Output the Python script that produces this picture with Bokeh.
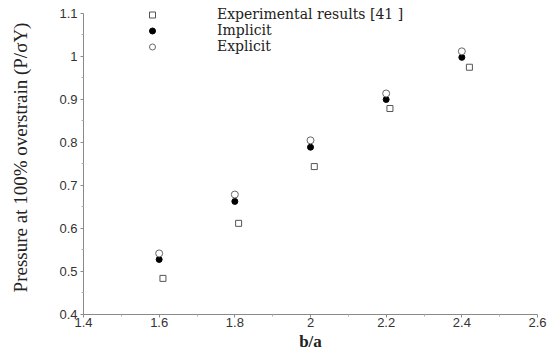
from bokeh.plotting import figure
from bokeh.models import Range1d, FixedTicker, CustomJSTickFormatter, Legend, LegendItem
from bokeh.embed import file_html
from bokeh.resources import INLINE

# data
ba_sim = [1.6, 1.8, 2.0, 2.2, 2.4]
ba_exp = [1.61, 1.81, 2.01, 2.21, 2.42]
experimental = [0.484, 0.612, 0.744, 0.879, 0.975]
implicit = [0.528, 0.663, 0.789, 0.900, 0.998]
explicit = [0.542, 0.679, 0.805, 0.914, 1.012]
x_ticks = [1.4, 1.6, 1.8, 2.0, 2.2, 2.4, 2.6]
x_minor = [1.5, 1.7, 1.9, 2.1, 2.3, 2.5]
y_ticks = [0.4, 0.5, 0.6, 0.7, 0.8, 0.9, 1.0, 1.1]
y_minor = [0.45, 0.55, 0.65, 0.75, 0.85, 0.95, 1.05]

p = figure(width=548, height=355, output_backend="svg", toolbar_location=None,
           x_range=Range1d(1.4, 2.6), y_range=Range1d(0.4, 1.1302),
           min_border_left=83, min_border_right=11, min_border_top=0, min_border_bottom=41)
p.outline_line_color = None
p.grid.visible = False
p.background_fill_color = "white"

fmt = CustomJSTickFormatter(code="return String(parseFloat(tick.toFixed(2)));")
for ax, t, m in ((p.xaxis[0], x_ticks, x_minor), (p.yaxis[0], y_ticks, y_minor)):
    ax.ticker = FixedTicker(ticks=t, minor_ticks=m)
    ax.formatter = fmt
    ax.axis_line_color = "#8a8a8a"
    ax.major_tick_line_color = "#8a8a8a"
    ax.minor_tick_line_color = "#b0b0b0"
    ax.major_tick_out = 3
    ax.major_tick_in = 0
    ax.minor_tick_out = 2
    ax.minor_tick_in = 0
    ax.major_label_text_font = "Liberation Sans"
    ax.major_label_text_font_size = "13px"
    ax.major_label_text_color = "#333333"

p.yaxis.bounds = (0.4, 1.1)

p.xaxis.major_label_standoff = 0
p.xaxis.axis_label = "b/a"
p.xaxis.axis_label_text_font = "Liberation Serif"
p.xaxis.axis_label_text_font_style = "bold"
p.xaxis.axis_label_text_font_size = "17px"
p.xaxis.axis_label_standoff = 2
p.xaxis.axis_label_text_color = "#222222"

p.yaxis.major_label_standoff = 3
p.yaxis.axis_label = "Pressure at 100% overstrain (P/σY)"
p.yaxis.axis_label_text_font = "Liberation Serif"
p.yaxis.axis_label_text_font_style = "normal"
p.yaxis.axis_label_text_font_size = "19px"
p.yaxis.axis_label_standoff = 25
p.yaxis.axis_label_text_color = "#222222"

r_exp = p.scatter(ba_exp, experimental, marker="square", size=6, fill_color="white",
                  line_color="#555555", line_width=1)
r_imp = p.scatter(ba_sim, implicit, marker="circle", size=6, fill_color="black",
                  line_color="black")
r_expl = p.scatter(ba_sim, explicit, marker="circle", size=7, fill_color="white",
                   line_color="#666666", line_width=1)

legend = Legend(items=[LegendItem(label="Experimental results [41 ]", renderers=[r_exp]),
                       LegendItem(label="Implicit", renderers=[r_imp]),
                       LegendItem(label="Explicit", renderers=[r_expl])],
                location=(59, 260), orientation="vertical",
                background_fill_alpha=0, border_line_color=None,
                label_text_font="DejaVu Serif", label_text_font_size="14px",
                label_text_color="#222222",
                glyph_width=20, glyph_height=15, label_height=15, spacing=0,
                label_standoff=55, padding=0, margin=0)
p.add_layout(legend, "center")

open("out.html", "w").write(file_html(p, INLINE))
